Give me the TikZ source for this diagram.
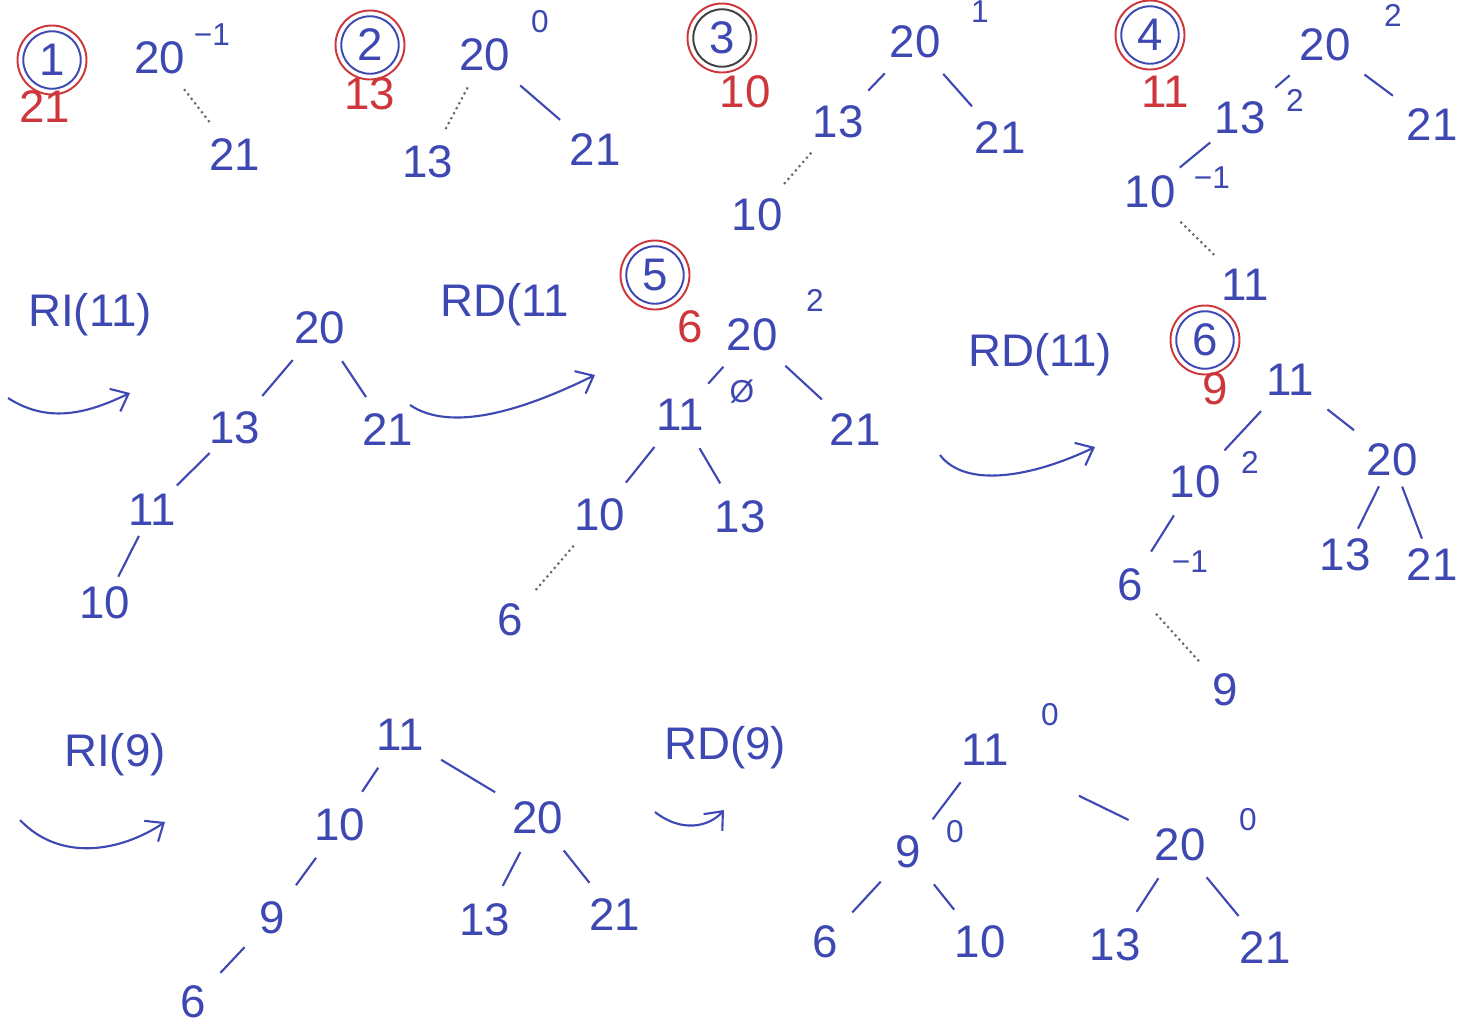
\documentclass[tikz,border=0pt]{standalone}
\usepackage{fontspec}
\setmainfont{Liberation Sans}
\usetikzlibrary{arrows.meta, positioning}
\definecolor{ink}{RGB}{62,72,178}
\definecolor{redink}{RGB}{205,55,60}

\begin{document}
\begin{tikzpicture}[
    x=0.2mm, y=-0.2mm,
    font=\fontsize{26}{28}\selectfont,
    >={Straight Barb[length=3mm, width=5mm]},
    key/.style={text=ink, inner sep=2pt},
    bal/.style={text=ink, font=\fontsize{18}{20}\selectfont, inner sep=1pt},
    newkey/.style={text=redink, inner sep=1pt},
    stepno/.style={circle, draw=ink, line width=1.1pt, text=ink, minimum size=11.5mm, inner sep=0pt},
    ring/.style={redink, line width=1.1pt},
    edge/.style={ink, line width=1.2pt, shorten <=9pt, shorten >=9pt},
    tight/.style={shorten <=4pt, shorten >=4pt},
    faint/.style={black!60, line width=1.2pt, dotted, shorten <=8pt, shorten >=8pt},
    turn/.style={->, ink, line width=1.2pt},
    rotlabel/.style={text=ink, inner sep=1pt}
]
\useasboundingbox[fill=white] (0,0) rectangle (1471,1027);

% step 1
\node[stepno] (s1) at (52,60) {1};
\draw[ring] (s1) circle (6.9mm);
\node[newkey] (k1) at (45,107) {21};
\node[key] (t1r) at (160,58) {20};
\node[bal] (b1r) at (212,35) {−1};
\node[key] (t1a) at (235,155) {21};
\draw[faint] (t1r) -- (t1a);

% step 2
\node[stepno] (s2) at (370,45) {2};
\draw[ring] (s2) circle (6.9mm);
\node[newkey] (k2) at (370,94) {13};
\node[key] (t2r) at (485,55) {20};
\node[bal] (b2r) at (540,22) {0};
\node[key] (t2a) at (428,162) {13};
\node[key] (t2b) at (595,150) {21};
\draw[faint] (t2r) -- (t2a);
\draw[edge] (t2r) -- (t2b);

% step 3
\node[stepno, draw=black!75] (s3) at (722,38) {3};
\draw[ring] (s3) circle (6.9mm);
\node[newkey] (k3) at (745,92) {10};
\node[key] (t3r) at (915,42) {20};
\node[bal] (b3r) at (980,12) {1};
\node[key] (t3a) at (838,122) {13};
\node[key] (t3b) at (1000,138) {21};
\node[key] (t3c) at (757,215) {10};
\draw[edge] (t3r) -- (t3a);
\draw[edge] (t3r) -- (t3b);
\draw[faint] (t3a) -- (t3c);

% step 4
\node[stepno] (s4) at (1150,35) {4};
\draw[ring] (s4) circle (6.9mm);
\node[newkey] (k4) at (1165,92) {11};
\node[key] (t4r) at (1325,45) {20};
\node[bal] (b4r) at (1393,15) {2};
\node[key] (t4a) at (1240,118) {13};
\node[bal] (b4a) at (1295,100) {2};
\node[key] (t4b) at (1432,125) {21};
\node[key] (t4c) at (1150,192) {10};
\node[bal] (b4c) at (1212,178) {−1};
\node[key] (t4d) at (1245,285) {11};
\draw[edge] (t4r) -- (t4a);
\draw[edge] (t4r) -- (t4b);
\draw[edge, tight] (t4a) -- (t4c);
\draw[faint] (t4c) -- (t4d);

% RI(11)
\node[rotlabel] (r1) at (90,315) {RI(11)};
\coordinate (a1s) at (8,398);
\coordinate (a1e) at (130,393);
\draw[turn] (a1s) .. controls (50,425) and (90,412) .. (a1e);
\node[key] (t5r) at (320,328) {20};
\node[key] (t5a) at (235,428) {13};
\node[key] (t5b) at (388,430) {21};
\node[key] (t5c) at (152,510) {11};
\node[key] (t5d) at (105,603) {10};
\draw[edge] (t5r) -- (t5a);
\draw[edge] (t5r) -- (t5b);
\draw[edge, tight] (t5a) -- (t5c);
\draw[edge, tight] (t5c) -- (t5d);

% RD(11 and step 5
\node[rotlabel] (r2) at (505,305) {RD(11};
\coordinate (a2s) at (410,405);
\coordinate (a2e) at (595,375);
\draw[turn] (a2s) .. controls (450,432) and (520,412) .. (a2e);
\node[stepno] (s5) at (655,275) {5};
\draw[ring] (s5) circle (6.9mm);
\node[newkey] (k5) at (690,327) {6};
\node[key] (t6r) at (752,335) {20};
\node[bal] (b6r) at (815,300) {2};
\node[bal] (x6r) at (742,392) {Ø};
\node[key] (t6a) at (680,415) {11};
\node[key] (t6b) at (855,430) {21};
\node[key] (t6c) at (600,515) {10};
\node[key] (t6d) at (740,517) {13};
\node[key] (t6e) at (510,620) {6};
\draw[edge] (t6r) -- (t6a);
\draw[edge] (t6r) -- (t6b);
\draw[edge] (t6a) -- (t6c);
\draw[edge] (t6a) -- (t6d);
\draw[faint] (t6c) -- (t6e);

% RD(11) and step 6
\node[rotlabel] (r3) at (1040,355) {RD(11)};
\coordinate (a3s) at (940,455);
\coordinate (a3e) at (1095,447);
\draw[turn] (a3s) .. controls (965,488) and (1030,478) .. (a3e);
\node[stepno] (s6) at (1205,340) {6};
\draw[ring] (s6) circle (6.9mm);
\node[newkey] (k6) at (1215,389) {9};
\node[key] (t7r) at (1290,380) {11};
\node[key] (t7a) at (1195,482) {10};
\node[bal] (b7a) at (1250,462) {2};
\node[key] (t7b) at (1392,460) {20};
\node[key] (t7c) at (1130,585) {6};
\node[bal] (b7c) at (1190,562) {−1};
\node[key] (t7d) at (1225,690) {9};
\node[key] (t7e) at (1345,555) {13};
\node[key] (t7f) at (1432,565) {21};
\draw[edge] (t7r) -- (t7a);
\draw[edge] (t7r) -- (t7b);
\draw[edge] (t7a) -- (t7c);
\draw[faint] (t7c) -- (t7d);
\draw[edge, tight] (t7b) -- (t7e);
\draw[edge, tight] (t7b) -- (t7f);

% RI(9)
\node[rotlabel] (r4) at (115,755) {RI(9)};
\coordinate (a4s) at (20,820);
\coordinate (a4e) at (165,822);
\draw[turn] (a4s) .. controls (60,862) and (120,852) .. (a4e);
\node[key] (t8r) at (400,735) {11};
\node[key] (t8a) at (340,825) {10};
\node[key] (t8b) at (538,818) {20};
\node[key] (t8c) at (272,918) {9};
\node[key] (t8d) at (193,1002) {6};
\node[key] (t8e) at (485,920) {13};
\node[key] (t8f) at (615,915) {21};
\draw[edge] (t8r) -- (t8a);
\draw[edge] (t8r) -- (t8b);
\draw[edge] (t8a) -- (t8c);
\draw[edge] (t8c) -- (t8d);
\draw[edge] (t8b) -- (t8e);
\draw[edge] (t8b) -- (t8f);

% RD(9)
\node[rotlabel] (r5) at (725,748) {RD(9)};
\coordinate (a5s) at (655,812);
\coordinate (a5e) at (724,810);
\draw[turn] (a5s) .. controls (680,832) and (708,828) .. (a5e);
\node[key] (t9r) at (985,750) {11};
\node[bal] (b9r) at (1050,715) {0};
\node[key] (t9a) at (908,852) {9};
\node[bal] (b9a) at (955,832) {0};
\node[key] (t9b) at (1180,845) {20};
\node[bal] (b9b) at (1248,820) {0};
\node[key] (t9c) at (825,942) {6};
\node[key] (t9d) at (980,942) {10};
\node[key] (t9e) at (1115,945) {13};
\node[key] (t9f) at (1265,948) {21};
\draw[edge] (t9r) -- (t9a);
\draw[edge, shorten <=42pt, shorten >=14pt] (t9r) -- (t9b);
\draw[edge] (t9a) -- (t9c);
\draw[edge] (t9a) -- (t9d);
\draw[edge] (t9b) -- (t9e);
\draw[edge] (t9b) -- (t9f);
\end{tikzpicture}
\end{document}
